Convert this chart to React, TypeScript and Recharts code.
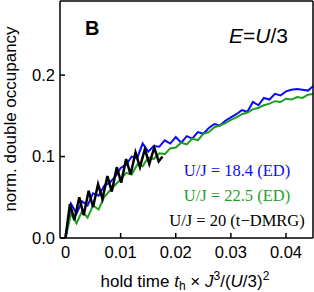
import { Line, LineChart, XAxis, YAxis } from "recharts";

// hold time t_h * J^3/(U/3)^2
const edTimes = [
  0, 0.001, 0.002, 0.003, 0.004, 0.005, 0.006, 0.007, 0.008, 0.009, 0.01,
  0.011, 0.012, 0.013, 0.014, 0.015, 0.016, 0.017, 0.018, 0.019, 0.02,
  0.021, 0.022, 0.023, 0.024, 0.025, 0.026, 0.027, 0.028, 0.029, 0.03,
  0.031, 0.032, 0.033, 0.034, 0.035, 0.036, 0.037, 0.038, 0.039, 0.04,
  0.041, 0.042, 0.043, 0.044, 0.045,
];

// U/J = 18.4 (ED)
const ed184 = [
  0, 0.042, 0.03, 0.045, 0.04, 0.055, 0.052, 0.064, 0.068, 0.075, 0.086,
  0.09, 0.1, 0.098, 0.116, 0.106, 0.113, 0.112, 0.12, 0.116, 0.124,
  0.117, 0.125, 0.122, 0.13, 0.128, 0.135, 0.14, 0.138, 0.144, 0.148,
  0.152, 0.157, 0.155, 0.167, 0.163, 0.172, 0.17, 0.177, 0.175, 0.18,
  0.182, 0.183, 0.182, 0.181, 0.187,
];

// U/J = 22.5 (ED)
const ed225 = [
  0, 0.03, 0.018, 0.033, 0.025, 0.04, 0.035, 0.05, 0.058, 0.065, 0.072,
  0.08, 0.078, 0.09, 0.088, 0.099, 0.097, 0.104, 0.103, 0.11, 0.111,
  0.117, 0.115, 0.122, 0.12, 0.128, 0.13, 0.136, 0.138, 0.141, 0.145,
  0.148, 0.152, 0.154, 0.158, 0.16, 0.163, 0.165, 0.168, 0.167, 0.171,
  0.17, 0.173, 0.172, 0.176, 0.177,
];

// U/J = 20 (t-DMRG)
const dmrgTimes = [
  0, 0.0008, 0.0016, 0.0025, 0.0033, 0.0042, 0.005, 0.0059, 0.0067, 0.0076,
  0.0084, 0.0093, 0.0101, 0.011, 0.0118, 0.0127, 0.0135, 0.0144, 0.0152,
  0.0161, 0.0169, 0.0176,
];
const dmrg20 = [
  0, 0.042, 0.022, 0.05, 0.028, 0.058, 0.038, 0.066, 0.048, 0.076,
  0.057, 0.087, 0.068, 0.097, 0.078, 0.105, 0.087, 0.109, 0.091,
  0.111, 0.094, 0.1,
];

const xTicks = [0, 0.01, 0.02, 0.03, 0.04];
const yTicks = [0, 0.1, 0.2];

const blueData = edTimes.map((x, i) => ({ x, y: ed184[i] }));
const greenData = edTimes.map((x, i) => ({ x, y: ed225[i] }));
const blackData = dmrgTimes.map((x, i) => ({ x, y: dmrg20[i] }));

const sans = '"Liberation Sans", Arial, Helvetica, sans-serif';
const serif = '"Liberation Serif", "Times New Roman", serif';
const axisStroke = { stroke: "#000", strokeWidth: 1.5 };
const tickFont = { fill: "#000", fontSize: 16.5, fontFamily: sans };
const sup = { fontSize: 12, position: "relative" as const, top: -7 };
const sub = { fontSize: 12, position: "relative" as const, top: 3 };

export default function App() {
  return (
    <div
      style={{
        position: "absolute",
        left: 0,
        top: 0,
        width: 314,
        height: 292,
        background: "#fff",
        fontFamily: sans,
      }}
    >
      <LineChart width={314} height={292} margin={{ top: 0, right: 0, bottom: 0, left: 0 }}>
        <XAxis
          xAxisId="b"
          type="number"
          dataKey="x"
          domain={[-0.001, 0.0449]}
          ticks={xTicks}
          interval={0}
          allowDataOverflow
          height={54}
          tickSize={-5}
          tickMargin={13}
          axisLine={axisStroke}
          tickLine={axisStroke}
          tick={tickFont}
          tickFormatter={(v: number) => (v === 0 ? "0" : String(v))}
        />
        <XAxis
          xAxisId="t"
          orientation="top"
          type="number"
          dataKey="x"
          domain={[-0.001, 0.0449]}
          ticks={xTicks}
          interval={0}
          allowDataOverflow
          height={1}
          tickSize={-5}
          axisLine={axisStroke}
          tickLine={axisStroke}
          tick={false}
        />
        <YAxis
          yAxisId="l"
          type="number"
          domain={[0, 0.291]}
          ticks={yTicks}
          interval={0}
          allowDataOverflow
          width={60}
          tickSize={-5}
          tickMargin={10}
          axisLine={axisStroke}
          tickLine={axisStroke}
          tick={tickFont}
          tickFormatter={(v: number) => v.toFixed(1)}
        />
        <YAxis
          yAxisId="r"
          orientation="right"
          type="number"
          domain={[0, 0.291]}
          ticks={yTicks}
          interval={0}
          allowDataOverflow
          width={1}
          tickSize={-5}
          axisLine={axisStroke}
          tickLine={axisStroke}
          tick={false}
        />
        <Line
          xAxisId="b"
          yAxisId="l"
          data={blueData}
          dataKey="y"
          type="linear"
          stroke="#0a0aff"
          strokeWidth={2}
          dot={false}
          isAnimationActive={false}
        />
        <Line
          xAxisId="b"
          yAxisId="l"
          data={greenData}
          dataKey="y"
          type="linear"
          stroke="#1f9f1f"
          strokeWidth={2}
          dot={false}
          isAnimationActive={false}
        />
        <Line
          xAxisId="b"
          yAxisId="l"
          data={blackData}
          dataKey="y"
          type="linear"
          stroke="#000"
          strokeWidth={2.5}
          dot={false}
          isAnimationActive={false}
        />
      </LineChart>

      <div style={{ position: "absolute", left: 85, top: 18, fontSize: 20, fontWeight: "bold", lineHeight: 1 }}>
        B
      </div>
      <div style={{ position: "absolute", left: 229, top: 25, fontSize: 21, lineHeight: 1, whiteSpace: "nowrap" }}>
        <i>E</i>=<i>U</i>/3
      </div>

      <div
        style={{
          position: "absolute",
          left: 137,
          width: 200,
          top: 158,
          textAlign: "center",
          fontFamily: serif,
          fontSize: 16.5,
          lineHeight: "25px",
          whiteSpace: "nowrap",
        }}
      >
        <div style={{ color: "#0a0aff" }}>U/J = 18.4 (ED)</div>
        <div style={{ color: "#1f9f1f" }}>U/J = 22.5 (ED)</div>
        <div style={{ color: "#000" }}>U/J = 20 (t−DMRG)</div>
      </div>

      <div style={{ position: "absolute", left: 100.5, top: 273, fontSize: 17, lineHeight: "17px", whiteSpace: "nowrap" }}>
        hold time <i>t</i>
        <span style={sub}>h</span> × <i>J</i>
        <span style={sup}>3</span>/(<i>U</i>/3)
        <span style={sup}>2</span>
      </div>

      <div
        style={{
          position: "absolute",
          left: 10,
          top: 119,
          fontSize: 17,
          lineHeight: 1,
          whiteSpace: "nowrap",
          transform: "translate(-50%, -50%) rotate(-90deg)",
        }}
      >
        norm. double occupancy
      </div>
    </div>
  );
}
